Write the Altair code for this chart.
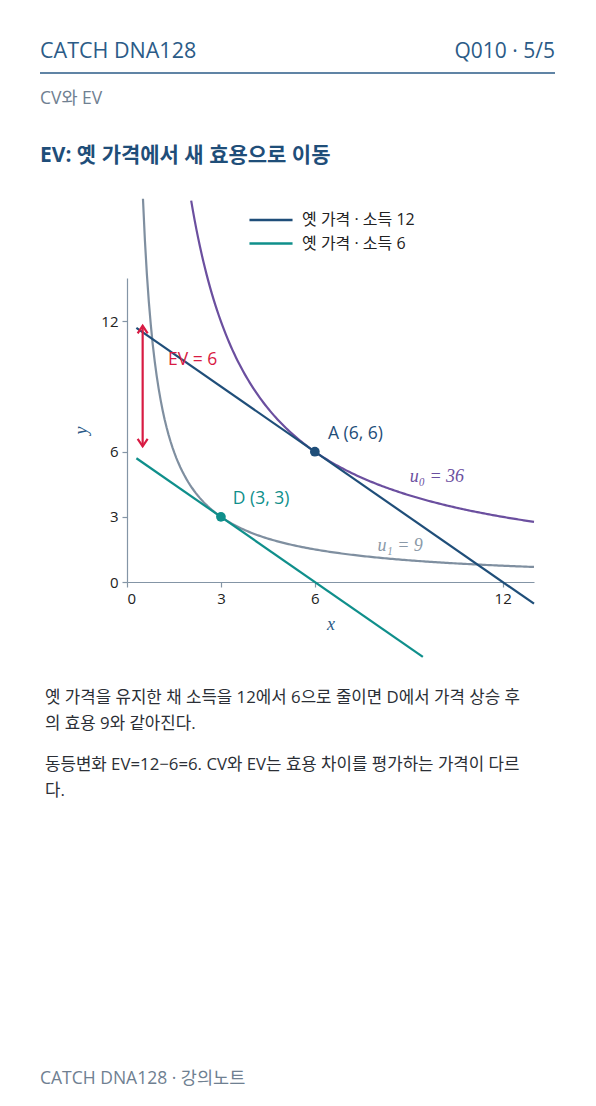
import altair as alt
import numpy as np
import pandas as pd

# ---------------- colours / fonts ----------------
NAVY = "#1f4e79"
TEAL = "#0f8f8b"
GRAY = "#7f8fa0"
PURPLE = "#6b4f9f"
RED = "#d81b43"
HEAD = "#2b5b87"
MUTED = "#6f8091"
INK = "#2b2f36"
AXIS = "#8495a6"
SANS = "Open Sans, Noto Sans, Noto Sans CJK KR"
SERIF = "Liberation Serif, DejaVu Serif"

# ---------------- data ----------------
budget_names = ["옛 가격 · 소득 12", "옛 가격 · 소득 6"]
budget_income = [12, 6]
budget_x_start = [0.3, 0.3]
budget_x_end = [13.0, 9.45]

curve_u = [36, 9]
curve_x_start = [2.05, 0.51]
curve_x_end = [13.0, 13.0]
curve_colors = [PURPLE, GRAY]

point_labels = ["A (6, 6)", "D (3, 3)"]
point_x = [6, 3]
point_y = [6, 3]
point_colors = [NAVY, TEAL]
point_label_x = [6.42, 3.38]
point_label_y = [6.6, 3.6]

ev_x = 0.5
ev_y_low = 6.25
ev_y_high = 11.8
ev_text = "EV = 6"
ev_text_x = 1.31
ev_text_y = 10.0

u_labels = ["u₀ = 36", "u₁ = 9"]
u_label_x = [9.03, 8.0]
u_label_y = [4.6, 1.45]
u_label_colors = [PURPLE, "#8a99a8"]

x_ticks = [0, 3, 6, 12]
y_ticks = [0, 3, 6, 12]
x_domain = [0, 13]
y_domain = [0, 14]

header_left = "CATCH DNA128"
header_right = "Q010 · 5/5"
section = "CV와 EV"
title = "EV: 옛 가격에서 새 효용으로 이동"
body_1 = "옛 가격을 유지한 채 소득을 12에서 6으로 줄이면 D에서 가격 상승 후\n의 효용 9와 같아진다."
body_2 = "동등변화 EV=12−6=6. CV와 EV는 효용 차이를 평가하는 가격이 다르\n다."
footer = "CATCH DNA128 · 강의노트"

# ---------------- tables ----------------
budget_rows = []
for name, m, xs, xe in zip(budget_names, budget_income, budget_x_start, budget_x_end):
    for xv in (xs, xe):
        budget_rows.append({"series": name, "x": xv, "y": m - xv})
budget_df = pd.DataFrame(budget_rows)

curve_rows = []
for u, xs, xe, col in zip(curve_u, curve_x_start, curve_x_end, curve_colors):
    for xv in np.linspace(xs, xe, 200):
        curve_rows.append({"u": str(u), "x": float(xv), "y": u / float(xv), "c": col})
curve_df = pd.DataFrame(curve_rows)

pts_df = pd.DataFrame({"x": point_x, "y": point_y, "c": point_colors,
                       "lx": point_label_x, "ly": point_label_y, "t": point_labels})
ulab_df = pd.DataFrame({"x": u_label_x, "y": u_label_y, "t": u_labels, "c": u_label_colors})
ev_df = pd.DataFrame({"x": [ev_x], "y": [ev_y_low], "y2": [ev_y_high]})
evt_df = pd.DataFrame({"x": [ev_text_x], "y": [ev_text_y], "t": [ev_text]})

X = alt.X("x:Q", scale=alt.Scale(domain=x_domain, nice=False, zero=False),
          axis=alt.Axis(values=x_ticks, title="x", grid=False, format="d"))
Y = alt.Y("y:Q", scale=alt.Scale(domain=y_domain, nice=False, zero=False),
          axis=alt.Axis(values=y_ticks, title="y", grid=False, format="d"))

curves = alt.Chart(curve_df).mark_line(strokeWidth=2.2).encode(
    x=X, y=Y, detail="u:N", color=alt.Color("c:N", scale=None))

budget = alt.Chart(budget_df).mark_line(strokeWidth=2.2).encode(
    x=X, y=Y,
    stroke=alt.Stroke("series:N",
                      scale=alt.Scale(domain=budget_names, range=[NAVY, TEAL]),
                      legend=alt.Legend(title=None, orient="none", legendX=136, legendY=-66,
                                        symbolType="M-4,0H4", symbolSize=116,
                                        symbolStrokeWidth=2.5, labelOffset=23,
                                        labelFont=SANS, labelFontSize=16, labelColor="#222",
                                        rowPadding=7.5, padding=0)),
)

ev_line = alt.Chart(ev_df).mark_rule(strokeWidth=2.2, color=RED).encode(
    x=X, y=Y, y2="y2:Q")
ev_head_up = alt.Chart(ev_df).mark_point(
    shape="M-1,1.5L0,0L1,1.5", size=100, filled=False, strokeWidth=2.2, color=RED, opacity=1
).encode(x=X, y=alt.Y("y2:Q", scale=alt.Scale(domain=y_domain, nice=False, zero=False)))
ev_head_down = alt.Chart(ev_df).mark_point(
    shape="M-1,-1.5L0,0L1,-1.5", size=100, filled=False, strokeWidth=2.2, color=RED, opacity=1
).encode(x=X, y=Y)
ev_txt = alt.Chart(evt_df).mark_text(align="left", baseline="alphabetic", font=SANS,
                                     fontSize=17.5, color=RED).encode(x=X, y=Y, text="t:N")

points = alt.Chart(pts_df).mark_circle(size=95, opacity=1).encode(
    x=X, y=Y, color=alt.Color("c:N", scale=None))
point_txt = alt.Chart(pts_df).mark_text(align="left", baseline="alphabetic", font=SANS,
                                        fontSize=17.5).encode(
    x=alt.X("lx:Q", scale=alt.Scale(domain=x_domain, nice=False, zero=False)),
    y=alt.Y("ly:Q", scale=alt.Scale(domain=y_domain, nice=False, zero=False)),
    text="t:N", color=alt.Color("c:N", scale=None))
u_txt = alt.Chart(ulab_df).mark_text(align="left", baseline="alphabetic", font=SERIF,
                                     fontStyle="italic", fontSize=18).encode(
    x=X, y=Y, text="t:N", color=alt.Color("c:N", scale=None))


def page_text(t, px, py, size, color, weight="normal", align="left", line_height=None):
    kw = dict(align=align, baseline="alphabetic", font=SANS, fontSize=size,
              color=color, fontWeight=weight)
    if line_height is not None:
        kw.update(lineBreak="\n", lineHeight=line_height)
    return alt.Chart(pd.DataFrame({"t": [t]})).mark_text(**kw).encode(
        x=alt.value(px), y=alt.value(py), text="t:N")


head_l = page_text(header_left, -87, -220, 21.5, HEAD)
head_r = page_text(header_right, 428, -220, 21, HEAD, align="right")
head_rule = alt.Chart(pd.DataFrame({"a": [0]})).mark_rule(color=HEAD, strokeWidth=1.3).encode(
    x=alt.value(-87), x2=alt.value(428), y=alt.value(-205))
sec = page_text(section, -87, -174, 17.5, MUTED)
ttl = page_text(title, -87, -116, 21, NAVY, weight="bold")
p1 = page_text(body_1, -82, 425, 16.8, INK, line_height=26)
p2 = page_text(body_2, -82, 492, 16.8, INK, line_height=26)
foot = page_text(footer, -87, 806, 17.5, MUTED)

chart = alt.layer(
    curves, budget, ev_line, ev_head_up, ev_head_down, ev_txt, points, point_txt, u_txt,
    head_l, head_r, head_rule, sec, ttl, p1, p2, foot
).properties(
    width=407, height=304,
    padding={"left": 119, "top": 270, "right": 54, "bottom": 516},
    autosize=alt.AutoSizeParams(type="none"),
).configure_view(strokeWidth=0).configure_axis(
    domainColor=AXIS, tickColor=AXIS, domainWidth=1.2, tickWidth=1.2, tickSize=5,
    labelFont=SANS, labelFontSize=15, labelColor="#222", labelPadding=4,
    titleFont=SERIF, titleFontStyle="italic", titleFontWeight="normal",
    titleFontSize=18, titleColor=HEAD,
).configure_axisX(titlePadding=9).configure_axisY(titlePadding=10)

chart.save("out.html", embed_options={"renderer": "svg", "actions": False})
